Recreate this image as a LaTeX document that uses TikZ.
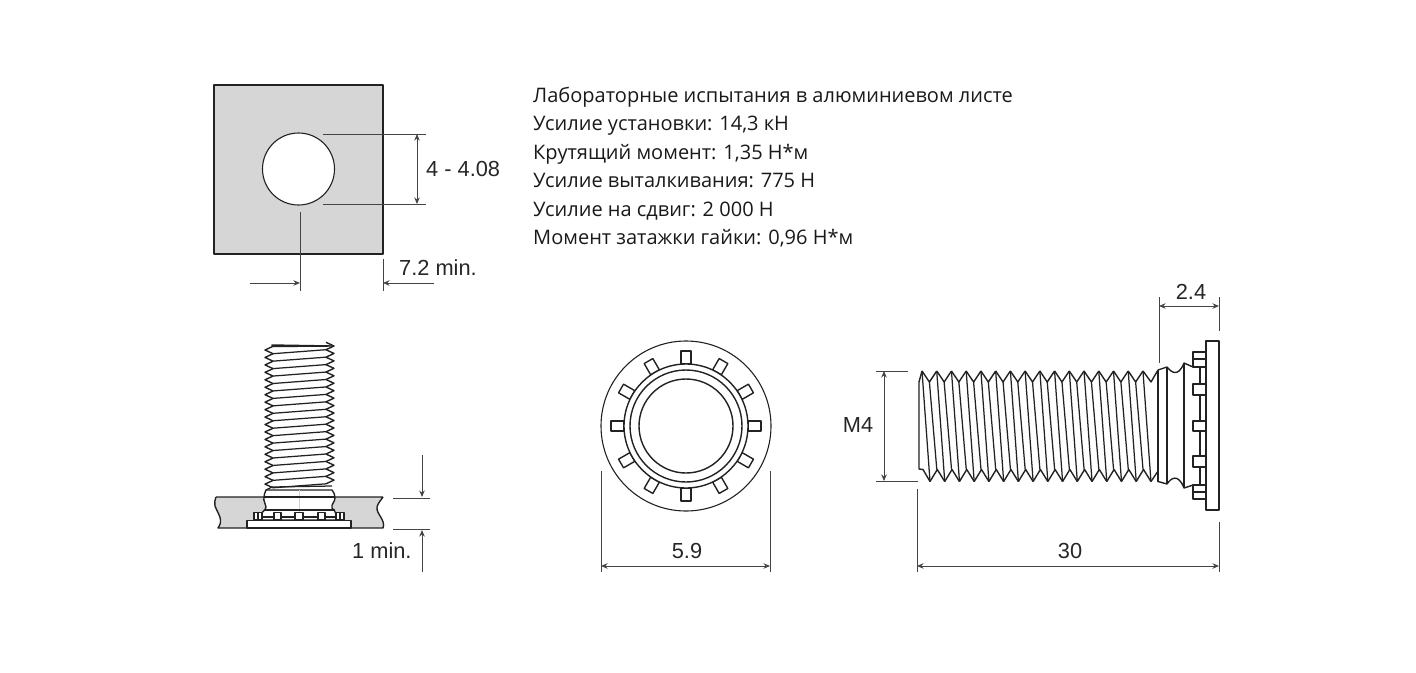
\documentclass[tikz,border=0pt]{standalone}
\usepackage{fontspec}
\setmainfont{Open Sans}
\newfontfamily\dimfont{Liberation Sans}
\usepackage{xcolor}
\usetikzlibrary{arrows.meta}
\definecolor{sheetgray}{HTML}{D6D6D6}
\definecolor{inkline}{HTML}{222222}
\definecolor{dimline}{HTML}{444444}
\tikzset{
  part/.style={draw=inkline,line width=1.4pt,line join=round},
  threadline/.style={draw=inkline,line width=1.25pt},
  extline/.style={draw=dimline,line width=0.85pt},
  dimarrow/.style={draw=dimline,line width=0.85pt,{Stealth[length=6.5pt,width=5.5pt]}-{Stealth[length=6.5pt,width=5.5pt]}},
  leadarrow/.style={draw=dimline,line width=0.85pt,-{Stealth[length=6.5pt,width=5.5pt]}},
  dimtext/.style={font=\dimfont\fontsize{21.8}{24}\selectfont,text=black!85,inner sep=0pt}
}
\begin{document}
\begin{tikzpicture}[x=1pt,y=-1pt]
  \useasboundingbox (0,0) rectangle (1416,672);

  % sheet with hole
  \draw[part,fill=sheetgray] (214,85) rectangle (383,254);
  \draw[part,fill=white,line width=1.1pt] (298.5,169) circle (36pt);
  \coordinate (holeT) at (417,134);
  \coordinate (holeB) at (417,204);
  \coordinate (edgeL) at (300,283);
  \coordinate (edgeR) at (383,283);
  \draw[extline] (323,134) -- (426,134);
  \draw[extline] (323,204) -- (426,204);
  \draw[dimarrow] (holeT) -- (holeB);
  \draw[extline] (300,212) -- (300,291);
  \draw[extline] (383,259) -- (383,291);
  \coordinate (edgeLs) at (250,283);
  \coordinate (edgeRs) at (434,283);
  \draw[leadarrow] (edgeLs) -- (edgeL);
  \draw[leadarrow] (edgeRs) -- (edgeR);
  \node[dimtext,anchor=west] (holeLabel) at (426,169) {4 - 4.08};
  \node[dimtext,anchor=west] (edgeLabel) at (399,268) {7.2 min.};

  % text block
  \node[anchor=north west,align=left,inner sep=0pt,text=black!90,
        font=\fontsize{20}{28.4}\selectfont] (specs) at (533,87) {%
    Лабораторные испытания в алюминиевом листе\\
    Усилие установки: 14,3 кН\\
    Крутящий момент: 1,35 Н*м\\
    Усилие выталкивания: 775 Н\\
    Усилие на сдвиг: 2 000 Н\\
    Момент затажки гайки: 0,96 Н*м};

  % side view in sheet
  \draw[part,fill=sheetgray] (216,497) -- (270,497) -- (270,528) -- (218,528)
    .. controls (224,520) and (218,514) .. (215,506) .. controls (214,503) and (215,500) .. (216,497);
  \draw[part,fill=sheetgray] (383,497) -- (328,497) -- (328,528) -- (383,528)
    .. controls (386,520) and (376,514) .. (377,507) .. controls (378,503) and (381,500) .. (383,497);
  \draw[part,fill=white] (266,490) -- (332,490) .. controls (334,492) and (335,495) .. (335,498)
    .. controls (335,502) and (331,504) .. (332,508) .. controls (333,510) and (336,511) .. (336,514)
    -- (336,520) -- (262,520) -- (262,514) .. controls (262,511) and (266,510) .. (266,507)
    .. controls (266,503) and (263,502) .. (264,497) .. controls (264,495) and (265,492) .. (266,490) -- cycle;
  \draw[gray!35,line width=0.6pt] (299,490) -- (299,528);
  \draw[part] (264,497) -- (335,497);
  \draw[part] (264,510) -- (335,510);
  \draw[threadline] (262,517) -- (336,517);
  \foreach \lx/\lw in {254/8,274/7,295/8,318/7,336/8}
    \draw[part,fill=white,line width=1.1pt] (\lx,512.5) rectangle (\lx+\lw,520);
  \draw[threadline] (258,512.5) -- (258,520);
  \draw[threadline] (340,512.5) -- (340,520);
  \draw[part,fill=white] (247,520.5) rectangle (351,528);
  % side view thread
  \foreach \k in {0,...,18}{
    \draw[threadline] (273,353.7+7.45*\k) -- (326,349.7+7.45*\k);
    \draw[part] (273,346.3+7.45*\k) -- (265,350+7.45*\k) -- (273,353.7+7.45*\k);
    \draw[part] (326,342.3+7.45*\k) -- (334,346+7.45*\k) -- (326,349.7+7.45*\k);
  }
  \draw[part,fill=inkline] (272,345) -- (333,346) -- (273,346.5) -- cycle;
  \draw[threadline] (266,490) -- (272,487) -- (332,486);
  \coordinate (gapT) at (422,497);
  \coordinate (gapB) at (422,530);
  \coordinate (gapTs) at (422,455);
  \coordinate (gapBs) at (422,572);
  \draw[extline] (393,498) -- (430,498);
  \draw[extline] (393,529) -- (430,529);
  \draw[leadarrow] (gapTs) -- (gapT);
  \draw[leadarrow] (gapBs) -- (gapB);
  \node[dimtext,anchor=west] (gapLabel) at (352,551) {1 min.};

  % end view
  \draw[part,line width=1.1pt] (686,426) circle (85pt);
  \foreach \a in {0,30,...,330}
    \draw[part,fill=white,rotate around={\a:(686,426)}] (681,351) rectangle (691,364);
  \draw[part,fill=white] (686,426) circle (62pt);
  \draw[part] (686,426) circle (56pt);
  \draw[part] (686,426) circle (47pt);
  \coordinate (dialL) at (601,566);
  \coordinate (dialR) at (770,566);
  \draw[extline] (601,471) -- (601,572);
  \draw[extline] (770,471) -- (770,572);
  \draw[dimarrow] (dialL) -- (dialR);
  \node[dimtext] (dialLabel) at (687,551) {5.9};

  % long view thread
  \foreach \k in {0,...,15}{
    \pgfmathsetmacro{\tipt}{922+14.73*\k}
    \draw[threadline] (\tipt,371) -- (\tipt+8,481.5);
    \ifnum\k<15
      \draw[threadline] (\tipt+7.4,382) -- (\tipt+14.8,469.5);
      \draw[part] (\tipt,371) -- (\tipt+7.4,382) -- (\tipt+14.73,371);
      \draw[part] (\tipt+8,481.5) -- (\tipt+15.3,469.5) -- (\tipt+22.7,481.5);
    \fi
  }
  \draw[part] (919,382) -- (922,371);
  \draw[part] (919,382) -- (919,469) -- (923,469.5) -- (930,481.5);
  \draw[part] (1143,371) -- (1151,382) -- (1158,370);
  \draw[part] (1151,481.5) -- (1158,471);
  % long view collar and head
  \draw[part] (1158,370) -- (1167,367) .. controls (1171,372) and (1178,378) .. (1184,363)
    -- (1193,367);
  \draw[part] (1158,481.5) -- (1167,484) .. controls (1171,478) and (1178,473) .. (1184,488)
    -- (1193,485);
  \draw[part] (1158,370) -- (1158,481.5);
  \draw[part] (1167,367) -- (1167,484);
  \draw[part] (1184,363) -- (1184,488);
  \draw[part] (1200,367) -- (1200,485);
  \foreach \ly/\lh in {352/15,384/11,421/10,456/11,485/14}
    \draw[part,fill=white] (1193,\ly) rectangle (1206,\ly+\lh);
  \draw[part] (1193,359) -- (1206,359);
  \draw[part] (1193,492) -- (1206,492);
  \draw[part,fill=white] (1206,341) rectangle (1219,510);
  \coordinate (headL) at (1159,306);
  \coordinate (headR) at (1219,306);
  \draw[extline] (1159,297) -- (1159,363);
  \draw[extline] (1219,297) -- (1219,331);
  \draw[dimarrow] (headL) -- (headR);
  \node[dimtext] (headLabel) at (1191,292) {2.4};
  \coordinate (threadT) at (884,371);
  \coordinate (threadB) at (884,481);
  \draw[extline] (876,371) -- (908,371);
  \draw[extline] (876,481) -- (918,481);
  \draw[dimarrow] (threadT) -- (threadB);
  \node[dimtext] (threadLabel) at (858,424.5) {M4};
  \coordinate (lenL) at (917,566);
  \coordinate (lenR) at (1219,566);
  \draw[extline] (917,489) -- (917,572);
  \draw[extline] (1219,522) -- (1219,572);
  \draw[dimarrow] (lenL) -- (lenR);
  \node[dimtext] (lenLabel) at (1070,551) {30};
\end{tikzpicture}
\end{document}
